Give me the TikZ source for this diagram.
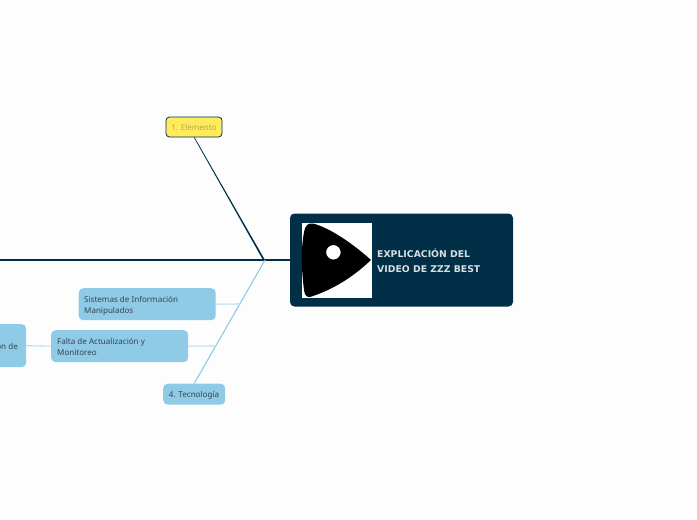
\documentclass[tikz,border=0pt]{standalone}
\usepackage{fontspec}
\usetikzlibrary{calc}
\setmainfont{Noto Sans}
\newfontfamily\titlefont{DejaVu Sans}
\definecolor{bgc}{HTML}{FDFDFD}
\definecolor{navy}{HTML}{002F47}
\definecolor{sky}{HTML}{8FCAE7}
\definecolor{skyline}{HTML}{B5DDF0}
\definecolor{yel}{HTML}{FFEB5C}
\definecolor{inktext}{HTML}{38444D}
\definecolor{eletext}{HTML}{B5A84A}
\tikzset{
  bluebox/.style={rectangle,rounded corners=4.5pt,fill=sky,draw=none,inner sep=0pt,anchor=north west},
  bluetext/.style={align=left,inner sep=0pt,text=inktext,font=\fontsize{8.05}{11.6}\selectfont},
  mainline/.style={draw=navy,line width=2.6pt},
  skybranch/.style={draw=skyline,line width=1.1pt},
}
\begin{document}
\begin{tikzpicture}[x=1pt,y=-1pt]
\useasboundingbox (0,0) rectangle (697,520);
\fill[bgc] (0,0) rectangle (697,520);
% nodes
\node[bluebox,minimum width=137pt,minimum height=32pt] (sis) at (78.5,288) {};
\node[bluetext,anchor=west] (sistxt) at (84,306) {Sistemas de Información\\Manipulados};
\node[bluebox,minimum width=137pt,minimum height=32pt] (fal) at (51,330) {};
\node[bluetext,anchor=west] (faltxt) at (57,347) {Falta de Actualización y\\Monitoreo};
\begin{scope}
\clip (0,0) rectangle (697,520);
\node[bluebox,minimum width=50pt,minimum height=43pt] (cut) at (-24,324) {};
\end{scope}
\node[bluetext,anchor=east] (cuttxt) at (18,346) {ón de};
\node[bluebox,minimum width=62pt,minimum height=21pt] (tec) at (163,383.5) {};
\node[bluetext] (tectxt) at (194,395) {4. Tecnología};
\node[rectangle,rounded corners=3.5pt,fill=yel,draw=navy,line width=0.8pt,minimum width=56pt,minimum height=20pt,inner sep=0pt,text=eletext,font=\fontsize{8.05}{11}\selectfont] (ele) at (194,127) {1. Elemento};
\node[rectangle,rounded corners=4.5pt,fill=navy,minimum width=223pt,minimum height=93pt,inner sep=0pt] (root) at (401.5,260) {};
\coordinate (hub) at (265,260);
\coordinate (west) at (0,260);
% connectors
\draw[mainline] (west) -- (hub) -- (root.west);
\fill[navy] ($(ele.south)+(0.6,0)$) -- (hub) -- ($(hub)+(-2,0)$) -- ($(ele.south)+(-0.2,0)$) -- cycle;
\draw[draw=sky,line width=1.1pt] (hub) -- (tec.north);
\draw[skybranch] (sis.east) -- (240,304);
\draw[skybranch] (fal.east) -- (216,346);
\draw[skybranch] (cut.east) -- (fal.west);
% picture in root
\fill[white] (302,223) rectangle (372,298);
\fill[black,even odd rule] (313,223.5) .. controls (330,228) and (352,243) .. (371,260)
  .. controls (352,278) and (332,290) .. (310,297)
  .. controls (306,297.5) and (304.5,294) .. (304,290)
  .. controls (301,265) and (301,250) .. (304,232)
  .. controls (305,226) and (308,222.5) .. (313,223.5) -- cycle
  (333.4,252.3) circle (7.3);
\node[anchor=west,align=left,inner sep=0pt,text=white!85!navy,font=\titlefont\fontsize{9.3}{15}\selectfont\bfseries] (title) at (377,260.5) {EXPLICACIÓN DEL\\VIDEO DE ZZZ BEST};
\end{tikzpicture}
\end{document}
